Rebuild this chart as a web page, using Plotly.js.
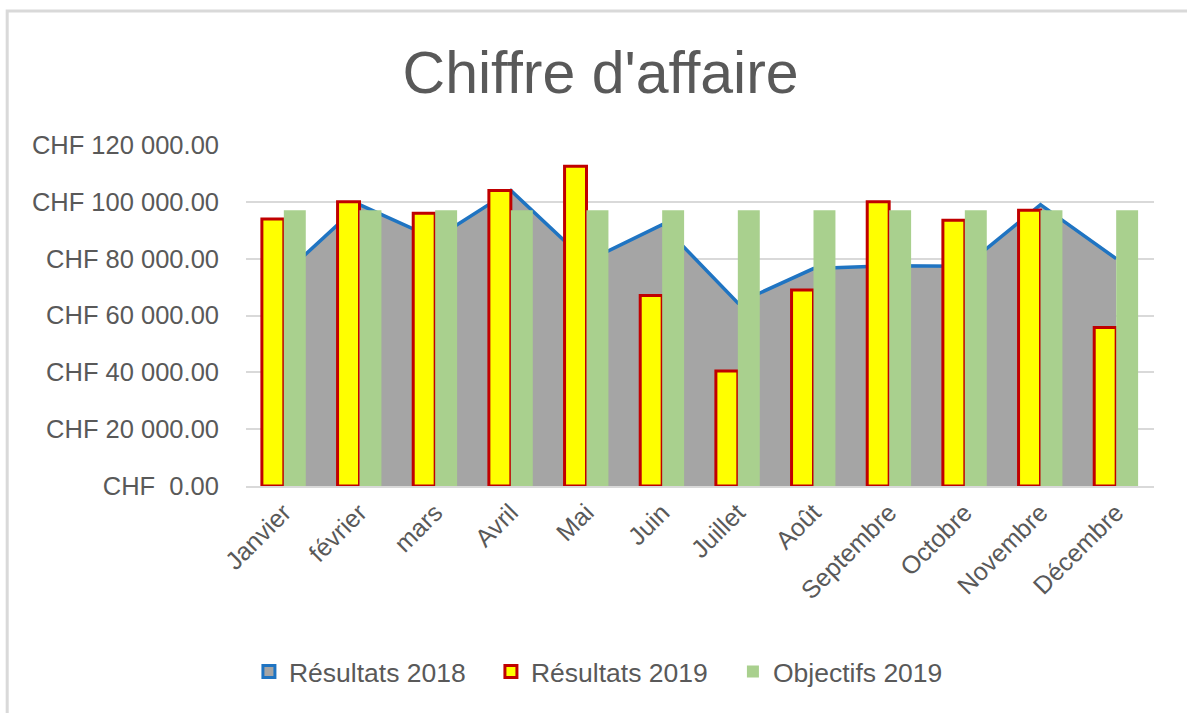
<!DOCTYPE html>
<html>
<head>
<meta charset="utf-8">
<script src="https://cdn.plot.ly/plotly-3.0.1.min.js"></script>
<style>
html, body { margin: 0; padding: 0; background: #ffffff; }
#chart { width: 1187px; height: 713px; }
</style>
</head>
<body>
<div id="chart"></div>
<script>
const months = ['Janvier', 'février', 'mars', 'Avril', 'Mai', 'Juin', 'Juillet', 'Août', 'Septembre', 'Octobre', 'Novembre', 'Décembre'];
const resultats2018 = [74500, 99000, 87000, 104000, 79000, 92000, 64400, 76500, 77500, 77300, 99000, 80000];
const resultats2019 = [94000, 100000, 96000, 104000, 112500, 67000, 40500, 69000, 100000, 93500, 97000, 55800];
const objectifs2019 = [97000, 97000, 97000, 97000, 97000, 97000, 97000, 97000, 97000, 97000, 97000, 97000];
const yTickVals = [0, 20000, 40000, 60000, 80000, 100000, 120000];
const yTickText = ['CHF\u00a0 0.00', 'CHF 20 000.00', 'CHF 40 000.00', 'CHF 60 000.00', 'CHF 80 000.00', 'CHF 100 000.00', 'CHF 120 000.00'];

const FONT = 'Liberation Sans, Arial, sans-serif';
const TXT = '#595959';
const BLUE = '#1F74C2';
const GRAY = '#A5A5A5';

const traces = [
  {
    type: 'scatter', mode: 'lines', name: 'Résultats 2018',
    x: months, y: resultats2018, xaxis: 'x', yaxis: 'y',
    fill: 'tozeroy', fillcolor: GRAY,
    line: { color: BLUE, width: 3.5 },
    showlegend: false, hoverinfo: 'skip'
  },
  {
    // legend entry for the area series (square swatch as in the original); draws nothing
    type: 'bar', name: 'Résultats 2018',
    x: [months[0]], y: [null], xaxis: 'x', yaxis: 'y',
    marker: { color: GRAY, line: { color: BLUE, width: 3 } },
    showlegend: true, legendrank: 1, hoverinfo: 'skip'
  },
  {
    type: 'bar', name: 'Résultats 2019',
    x: months, y: resultats2019, xaxis: 'x', yaxis: 'y2',
    marker: { color: '#FFFF00', line: { color: '#C00000', width: 3 } },
    legendrank: 2, hoverinfo: 'skip'
  },
  {
    type: 'bar', name: 'Objectifs 2019',
    x: months, y: objectifs2019, xaxis: 'x', yaxis: 'y2',
    marker: { color: '#A9D08E', line: { width: 0 } },
    legendrank: 3, hoverinfo: 'skip'
  }
];

const layout = {
  width: 1187, height: 713,
  paper_bgcolor: '#ffffff', plot_bgcolor: 'rgba(0,0,0,0)',
  margin: { l: 246, r: 33, t: 145, b: 227, pad: 0 },
  font: { family: FONT, color: TXT, size: 24 },
  title: {
    text: "Chiffre d'affaire",
    font: { family: FONT, size: 59, color: TXT },
    x: 0.506, xref: 'container', xanchor: 'center',
    y: 0.899, yref: 'container', yanchor: 'middle'
  },
  barmode: 'group', bargap: 0.42, bargroupgap: 0,
  xaxis: {
    type: 'category', categoryorder: 'array', categoryarray: months,
    tickangle: -45, tickfont: { family: FONT, size: 25, color: TXT },
    showgrid: false, showline: true, linecolor: '#D9D9D9', linewidth: 2,
    ticks: '', zeroline: false
  },
  yaxis: {
    range: [0, 120000], tickvals: yTickVals, ticktext: yTickText,
    tickfont: { family: FONT, size: 25.5, color: TXT },
    showgrid: true, gridcolor: '#D9D9D9', gridwidth: 2,
    zeroline: false, showline: false, ticks: '', ticklabelstandoff: 26,
    fixedrange: true
  },
  yaxis2: {
    range: [0, 120000], overlaying: 'y', visible: false, showgrid: false, zeroline: false
  },
  showlegend: true,
  legend: {
    orientation: 'h', x: 0.403, xanchor: 'center', y: -0.545, yanchor: 'middle',
    font: { family: FONT, size: 26.5, color: TXT },
    entrywidthmode: 'pixels', entrywidth: 197,
    traceorder: 'normal'
  },
  shapes: [
    {
      type: 'path', xref: 'paper', yref: 'paper',
      path: 'M -0.263,-1 L -0.263,1.393 L 1.2,1.393',
      line: { color: '#D9D9D9', width: 3 }
    }
  ]
};

Plotly.newPlot('chart', traces, layout, { displayModeBar: false, staticPlot: true });
</script>
</body>
</html>
